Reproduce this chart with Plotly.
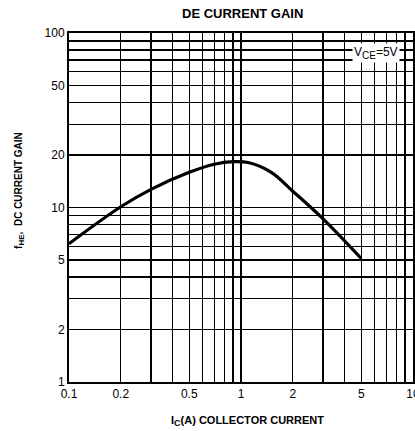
import plotly.graph_objects as go

# Data
ic_current = [0.1, 0.2, 0.3, 0.5, 0.7, 0.9, 1.1, 1.5, 2, 3, 5]
hfe_gain = [6.2, 10.1, 12.7, 15.9, 17.7, 18.3, 18.1, 15.9, 12.4, 8.6, 5.1]

x_tick_vals = [0.1, 0.2, 0.5, 1, 2, 5, 10]
x_tick_text = ["0.1", "0.2", "0.5", "1", "2", "5", "10"]
y_tick_vals = [1, 2, 5, 10, 20, 50, 100]
y_tick_text = ["1", "2", "5", "10", "20", "50", "100"]

x_grid = [0.1, 0.2, 0.3, 0.4, 0.5, 0.6, 0.7, 0.8, 0.9, 1, 2, 3, 4, 5, 6, 7, 8, 9, 10]
y_grid = [1, 2, 3, 4, 5, 6, 7, 8, 9, 10, 20, 30, 40, 50, 60, 70, 80, 90, 100]

FONT = "Liberation Sans, Arial, sans-serif"

fig = go.Figure()
fig.add_trace(go.Scatter(
    x=ic_current, y=hfe_gain, mode="lines",
    line=dict(color="black", width=3.2, shape="spline", smoothing=1.0),
    hoverinfo="skip", showlegend=False,
))

axis_common = dict(
    type="log",
    showgrid=True, gridcolor="black", gridwidth=1.3,
    showline=True, linecolor="black", linewidth=2, mirror=True,
    ticks="", zeroline=False,
    tickfont=dict(family=FONT, size=12, color="black"),
    automargin=False,
    ticklabeloverflow="allow",
)

fig.update_xaxes(
    **axis_common, range=[-1, 1],
    tickmode="array", tickvals=x_tick_vals, ticktext=x_tick_text,
    minor=dict(tickmode="array", tickvals=x_grid, showgrid=True,
               gridcolor="black", gridwidth=1.3, ticks=""),
)
fig.update_yaxes(
    **axis_common, range=[0, 2],
    tickmode="array", tickvals=y_tick_vals, ticktext=y_tick_text,
    minor=dict(tickmode="array", tickvals=y_grid, showgrid=True,
               gridcolor="black", gridwidth=1.3, ticks=""),
)

fig.update_layout(
    width=415, height=431,
    margin=dict(l=69, r=2, t=33, b=49, pad=0),
    paper_bgcolor="white", plot_bgcolor="white",
    font=dict(family=FONT, color="black"),
    annotations=[
        dict(text="<b>DE CURRENT GAIN</b>", xref="paper", yref="paper",
             x=0.503, y=1.057, showarrow=False, font=dict(size=13),
             xanchor="center", yanchor="middle"),
        dict(text="<b>I<sub><span style='font-size:9px'>C</span></sub>(A) COLLECTOR CURRENT</b>",
             xref="paper", yref="paper",
             x=0.52, y=-0.112, showarrow=False, font=dict(size=11),
             xanchor="center", yanchor="middle"),
        dict(text="<b>f<sub><span style='font-size:8px'>HE</span></sub>,  DC CURRENT GAIN</b>",
             xref="paper", yref="paper",
             x=-0.142, y=0.548, showarrow=False, font=dict(size=10),
             textangle=-90, xanchor="center", yanchor="middle"),
        dict(text="V<sub><span style='font-size:10px'>CE</span></sub>=5V",
             xref="paper", yref="paper",
             x=0.893, y=0.943, showarrow=False, font=dict(size=12),
             bgcolor="white", borderpad=1,
             xanchor="center", yanchor="middle"),
    ],
)

fig.write_html(
    "out.html",
    config={"displayModeBar": False, "staticPlot": True},
    post_script=("document.body.style.margin='0';"
                 "document.body.style.overflow='hidden';"
                 "document.documentElement.style.overflow='hidden';"),
)
